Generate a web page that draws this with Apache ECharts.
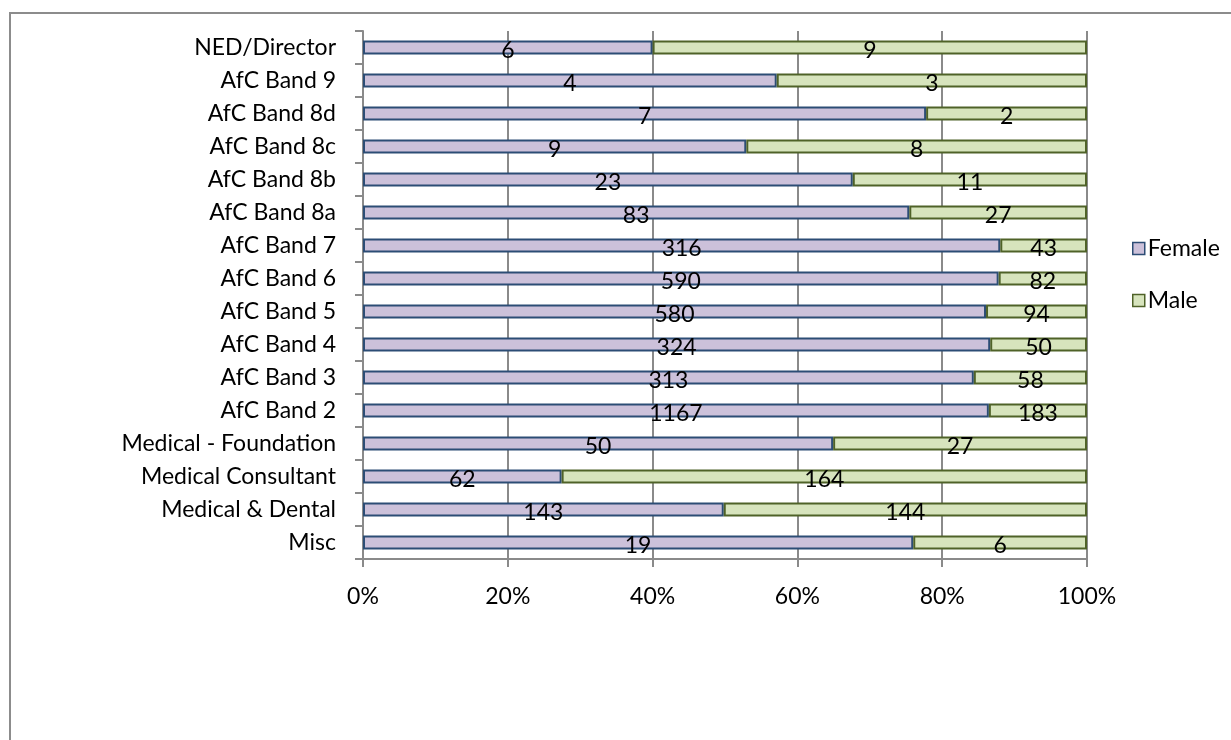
<!DOCTYPE html>
<html>
<head>
<meta charset="utf-8">
<script src="https://cdn.jsdelivr.net/npm/echarts@6/dist/echarts.min.js"></script>
<style>
  html, body { margin: 0; padding: 0; background: #fff; }
  #chart { width: 1231px; height: 740px; }
</style>
</head>
<body>
<div id="chart"></div>
<script>
// Staff groups, listed top to bottom
const categories = [
  'NED/Director', 'AfC Band 9', 'AfC Band 8d', 'AfC Band 8c', 'AfC Band 8b',
  'AfC Band 8a', 'AfC Band 7', 'AfC Band 6', 'AfC Band 5', 'AfC Band 4',
  'AfC Band 3', 'AfC Band 2', 'Medical - Foundation', 'Medical Consultant',
  'Medical & Dental', 'Misc'
];
// Headcount by gender
const female = [6, 4, 7, 9, 23, 83, 316, 590, 580, 324, 313, 1167, 50, 62, 143, 19];
const male   = [9, 3, 2, 8, 11, 27, 43, 82, 94, 50, 58, 183, 27, 164, 144, 6];
const xTicks = [0, 20, 40, 60, 80, 100];

// Each row is stacked to 100%
const femaleShare = female.map((v, i) => v / (v + male[i]) * 100);
const maleShare = male.map((v, i) => v / (female[i] + v) * 100);

const FONT = 'Lato, "Open Sans", sans-serif';
const FS = 23;
const AXIS_GREY = '#8a8a8a';

const chart = echarts.init(document.getElementById('chart'), null, { renderer: 'canvas' });

function segLabel(values) {
  return {
    show: true,
    position: 'inside',
    offset: [0, 3],
    fontFamily: FONT,
    fontSize: FS,
    color: '#000',
    formatter: p => String(values[p.dataIndex])
  };
}

chart.setOption({
  animation: false,
  backgroundColor: '#ffffff',
  textStyle: { fontFamily: FONT },
  graphic: [{
    type: 'rect',
    shape: { x: 10, y: 13, width: 1400, height: 900 },
    style: { fill: 'none', stroke: '#8c8c8c', lineWidth: 2 },
    silent: true
  }],
  grid: { left: 363, right: 144, top: 31, bottom: 181, containLabel: false },
  legend: {
    orient: 'vertical',
    left: 1127,
    top: 232,
    itemWidth: 12,
    itemHeight: 12,
    itemGap: 29,
    icon: 'rect',
    textStyle: { fontFamily: FONT, fontSize: FS, color: '#000', padding: [0, 0, 0, -2] },
    data: [
      { name: 'Female', itemStyle: { color: '#ccc1da', borderColor: '#2c4d75', borderWidth: 1.5 } },
      { name: 'Male', itemStyle: { color: '#d7e4bd', borderColor: '#4f6228', borderWidth: 1.5 } }
    ]
  },
  xAxis: {
    type: 'value',
    min: 0,
    max: 100,
    interval: 20,
    axisLine: { show: true, lineStyle: { color: AXIS_GREY, width: 2 } },
    axisTick: { show: true, length: 8, lineStyle: { color: AXIS_GREY, width: 2 } },
    splitLine: { show: true, lineStyle: { color: AXIS_GREY, width: 2 } },
    axisLabel: {
      margin: 26,
      fontFamily: FONT,
      fontSize: FS,
      color: '#000',
      formatter: v => xTicks.includes(v) ? v + '%' : ''
    }
  },
  yAxis: {
    type: 'category',
    inverse: true,
    data: categories,
    axisLine: { show: true, lineStyle: { color: AXIS_GREY, width: 2 } },
    axisTick: { show: true, length: 8, alignWithLabel: false, lineStyle: { color: AXIS_GREY, width: 2 } },
    axisLabel: { margin: 27, fontFamily: FONT, fontSize: FS, color: '#000' },
    splitLine: { show: false }
  },
  series: [
    {
      name: 'Female',
      type: 'bar',
      stack: 'total',
      barWidth: 14,
      data: femaleShare,
      itemStyle: { color: '#ccc1da', borderColor: '#2c4d75', borderWidth: 2 },
      label: segLabel(female)
    },
    {
      name: 'Male',
      type: 'bar',
      stack: 'total',
      barWidth: 14,
      data: maleShare,
      itemStyle: { color: '#d7e4bd', borderColor: '#4f6228', borderWidth: 2 },
      label: segLabel(male)
    }
  ]
});
</script>
</body>
</html>
